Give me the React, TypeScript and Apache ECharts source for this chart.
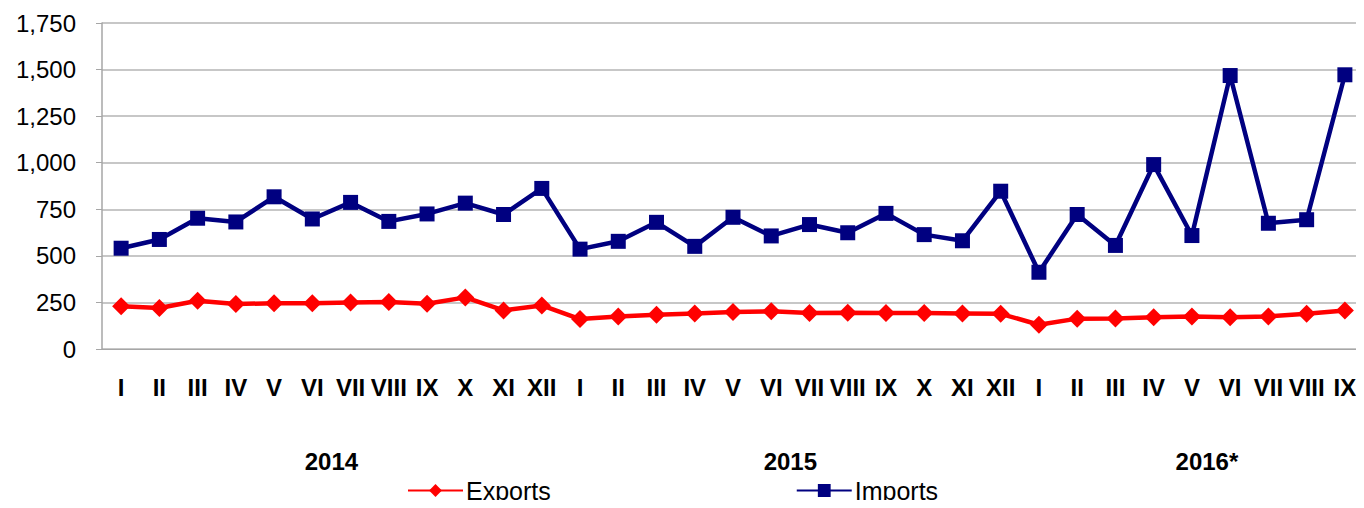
import React, { useEffect, useRef } from "react";
import * as echarts from "echarts";

const months = [
  "I", "II", "III", "IV", "V", "VI", "VII", "VIII", "IX", "X", "XI", "XII",
  "I", "II", "III", "IV", "V", "VI", "VII", "VIII", "IX", "X", "XI", "XII",
  "I", "II", "III", "IV", "V", "VI", "VII", "VIII", "IX",
];
const years = ["2014", "2015", "2016*"];
const yearCounts = [12, 12, 9];

const exportsData = [
  229, 220, 259, 241, 246, 246, 250, 252, 243, 277, 207, 234,
  161, 175, 184, 191, 198, 202, 193, 195, 193, 193, 191, 189,
  130, 163, 164, 170, 175, 171, 175, 189, 207,
];
const importsData = [
  541, 588, 702, 682, 817, 698, 787, 685, 725, 783, 722, 862,
  536, 578, 680, 551, 707, 607, 668, 624, 728, 614, 581, 847,
  412, 722, 556, 990, 609, 1468, 675, 694, 1472,
];
const yTicks = [0, 250, 500, 750, 1000, 1250, 1500, 1750];

const FONT = "'Liberation Sans', Arial, Helvetica, sans-serif";

export default function App() {
  const ref = useRef<HTMLDivElement>(null);
  useEffect(() => {
    if (!ref.current) return;
    const chart = echarts.init(ref.current, null, { renderer: "svg" });
    chart.setOption({
      animation: false,
      backgroundColor: "#ffffff",
      grid: { left: 102, top: 23, height: 326, width: 1269, containLabel: false },
      xAxis: {
        type: "category",
        data: months,
        boundaryGap: true,
        axisLine: { show: true, lineStyle: { color: "#a6a6a6", width: 1 } },
        axisTick: { show: false },
        axisLabel: {
          interval: 0,
          margin: 26,
          fontFamily: FONT,
          fontWeight: "bold",
          fontSize: 24,
          color: "#000",
        },
        splitLine: { show: false },
      },
      yAxis: {
        type: "value",
        min: yTicks[0],
        max: yTicks[yTicks.length - 1],
        interval: 250,
        axisLine: { show: true, lineStyle: { color: "#a6a6a6", width: 1.5 } },
        axisTick: { show: true, length: 6, lineStyle: { color: "#a6a6a6" } },
        axisLabel: {
          margin: 26,
          fontFamily: FONT,
          fontSize: 24,
          color: "#000",
          formatter: (v: number) => v.toLocaleString("en-US"),
        },
        splitLine: { show: true, lineStyle: { color: "#b4b4b4", width: 1.5 } },
      },
      legend: {
        left: 407,
        top: 478,
        padding: 0,
        itemWidth: 55,
        itemHeight: 16,
        itemGap: 245,
        textStyle: { fontFamily: FONT, fontSize: 25, color: "#000", padding: [0, 0, 0, -2] },
        data: ["Exports", "Imports"],
      },
      series: [
        {
          name: "Exports",
          type: "line",
          data: exportsData,
          color: "#ff0000",
          symbol: "diamond",
          symbolSize: 18,
          lineStyle: { color: "#ff0000", width: 4.5 },
          itemStyle: { color: "#ff0000" },
        },
        {
          name: "Imports",
          type: "line",
          data: importsData,
          color: "#000080",
          symbol: "rect",
          symbolSize: 15,
          lineStyle: { color: "#000080", width: 4.5 },
          itemStyle: { color: "#000080" },
        },
      ],
    });

    // year group labels centred under each group of months
    const graphics: any[] = [];
    let start = 0;
    years.forEach((y, i) => {
      const end = start + yearCounts[i] - 1;
      const x0 = chart.convertToPixel({ xAxisIndex: 0 }, start) as number;
      const x1 = chart.convertToPixel({ xAxisIndex: 0 }, end) as number;
      graphics.push({
        type: "text",
        x: (x0 + x1) / 2 + (i === 2 ? 15 : 0),
        y: 461,
        style: {
          text: y,
          fontFamily: FONT,
          fontWeight: "bold",
          fontSize: 24,
          fill: "#000",
          align: "center",
          verticalAlign: "middle",
        },
      });
      start = end + 1;
    });
    graphics.push({
      type: "text",
      x: 672,
      y: 3,
      style: {
        text: "(in millions of EUR)",
        fontFamily: FONT,
        fontWeight: "bold",
        fontSize: 25,
        fill: "#000",
        align: "center",
        verticalAlign: "bottom",
      },
    });
    chart.setOption({ graphic: graphics });

    return () => chart.dispose();
  }, []);
  return <div ref={ref} style={{ width: 1364, height: 508, margin: -8 }} />;
}
